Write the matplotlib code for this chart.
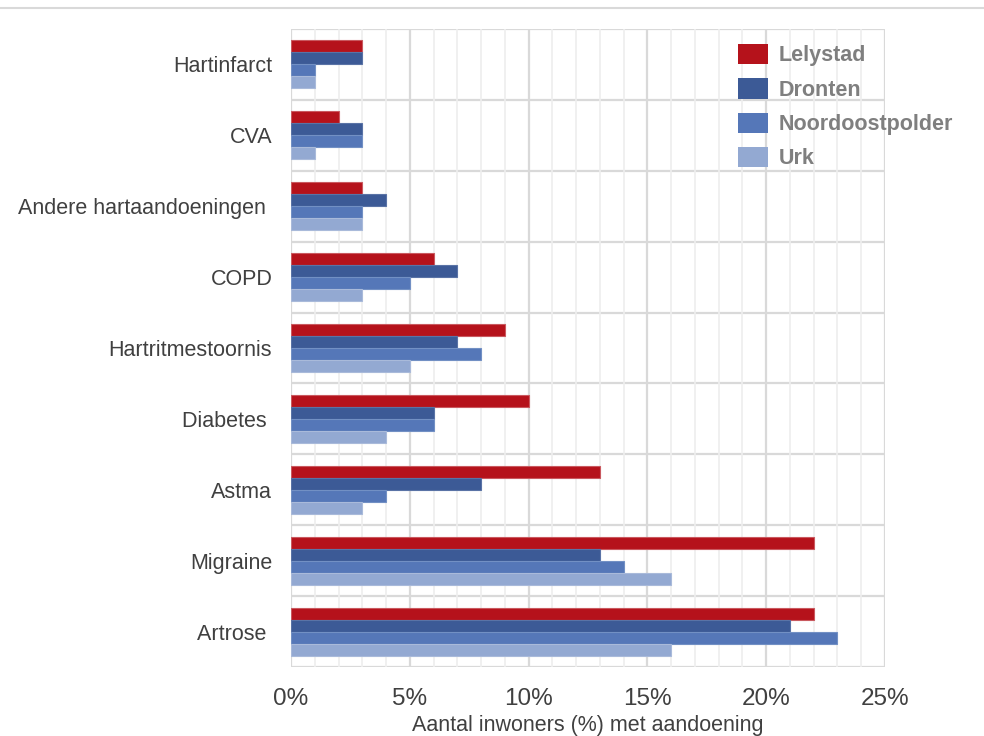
import matplotlib
matplotlib.use("Agg")
import matplotlib.pyplot as plt
import numpy as np
from matplotlib.ticker import MultipleLocator, FuncFormatter

categories = ["Hartinfarct", "CVA", "Andere hartaandoeningen ", "COPD", "Hartritmestoornis",
              "Diabetes ", "Astma", "Migraine", "Artrose "]
series_names = ["Lelystad", "Dronten", "Noordoostpolder", "Urk"]
lelystad = [3, 2, 3, 6, 9, 10, 13, 22, 22]
dronten = [3, 3, 4, 7, 7, 6, 8, 13, 21]
noordoostpolder = [1, 3, 3, 5, 8, 6, 4, 14, 23]
urk = [1, 1, 3, 3, 5, 4, 3, 16, 16]
colors = ["#B5121B", "#3C5A96", "#5577B8", "#93A9D2"]
edges = ["#C9595F", "#5A73A6", "#7290C4", "#A9BADA"]

plt.rcParams['font.family'] = ['Liberation Sans', 'DejaVu Sans']

fig = plt.figure(figsize=(9.84, 7.36), dpi=100)
ax = fig.add_axes([291/984, 1-667/736, (885-291)/984, (667-29)/736])

y = np.arange(len(categories))
bh = 0.169
data = [lelystad, dronten, noordoostpolder, urk]
for i, (name, vals) in enumerate(zip(series_names, data)):
    offs = (i - 1.5) * bh
    ax.barh(y + offs, vals, height=bh, color=colors[i], edgecolor=edges[i],
            linewidth=0.8, label=name, zorder=3)

ax.set_xlim(0, 25)
ax.set_ylim(len(categories) - 0.5, -0.5)
ax.xaxis.set_major_locator(MultipleLocator(5))
ax.xaxis.set_minor_locator(MultipleLocator(1))
ax.xaxis.set_major_formatter(FuncFormatter(lambda v, p: f"{int(round(v))}%"))
ax.grid(axis='x', which='minor', color='#EEEEEE', linewidth=1.2, zorder=0)
ax.grid(axis='x', which='major', color='#D9D9D9', linewidth=1.6, zorder=1)
for b in np.arange(-0.5, len(categories), 1.0):
    ax.axhline(b, color='#D9D9D9', linewidth=1.6, zorder=1)
for s in ax.spines.values():
    s.set_visible(False)
ax.set_yticks(y)
ax.set_yticklabels(categories, fontsize=15.5, color='#404040')
ax.tick_params(axis='both', which='both', length=0)
ax.tick_params(axis='y', pad=13.5)
ax.tick_params(axis='x', labelsize=17.5, labelcolor='#404040', pad=15)
ax.set_xlabel("Aantal inwoners (%) met aandoening", fontsize=15.5, color='#404040', labelpad=4)

leg = ax.legend(loc='upper left', bbox_to_anchor=(738/984, 1-44/736), bbox_transform=fig.transFigure,
                frameon=False, prop={'weight': 'bold', 'size': 15.5}, labelcolor='#7F7F7F',
                handlelength=1.39, handleheight=1.07, labelspacing=0.55, handletextpad=0.5,
                borderaxespad=0, borderpad=0)
for h in leg.legend_handles:
    h.set_edgecolor('none')

fig.add_artist(plt.Line2D([0, 1], [1-8/736, 1-8/736], color='#D9D9D9', linewidth=1.5,
                          transform=fig.transFigure))

fig.savefig("out.png", dpi=100)
